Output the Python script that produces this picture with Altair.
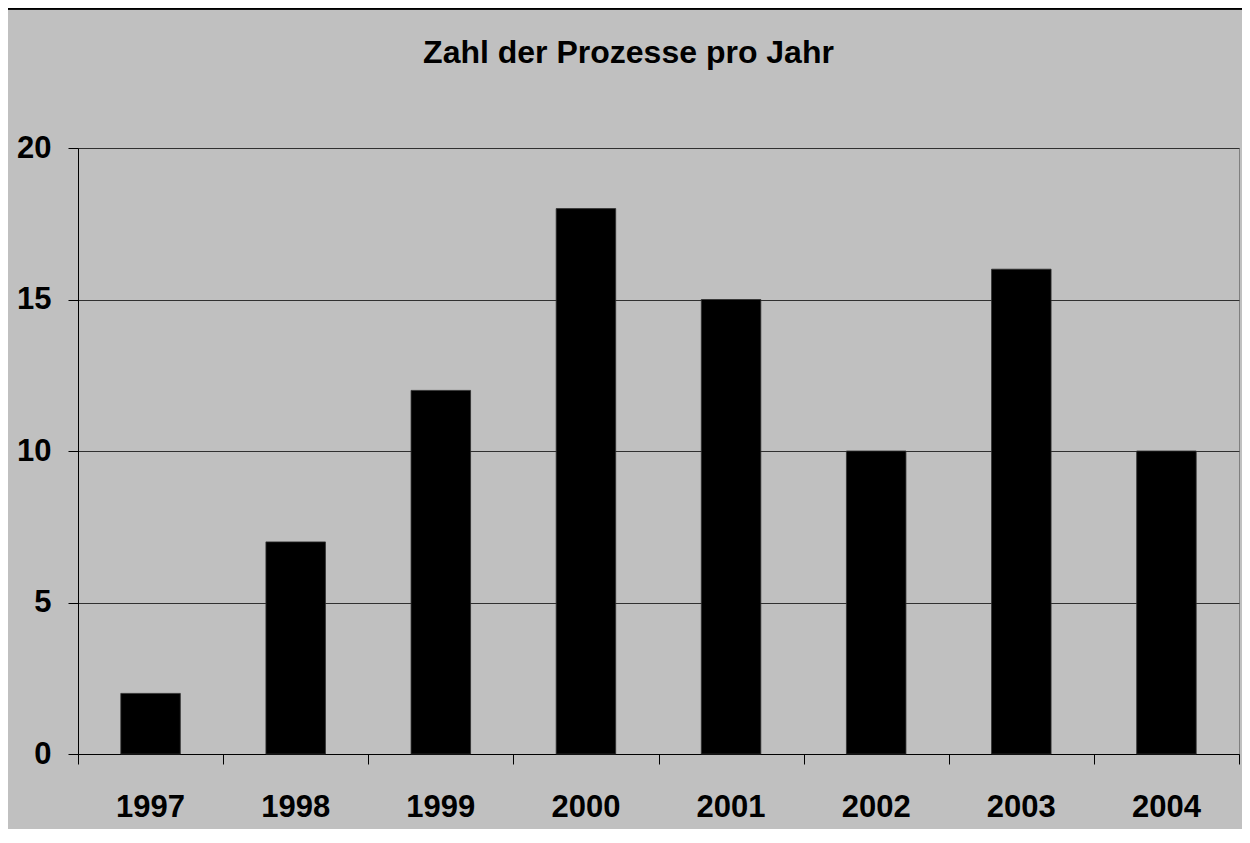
import altair as alt
import pandas as pd

years = ["1997", "1998", "1999", "2000", "2001", "2002", "2003", "2004"]
counts = [2, 7, 12, 18, 15, 10, 16, 10]
y_ticks = [0, 5, 10, 15, 20]
title_text = "Zahl der Prozesse pro Jahr"

df = pd.DataFrame({"Jahr": years, "Anzahl": counts})

FONT = "Liberation Sans"
W, H = 1161, 606
PAD = {"left": 70, "top": 140, "right": 3, "bottom": 75}

y_enc = alt.Y(
    "Anzahl:Q",
    title=None,
    scale=alt.Scale(domain=[0, 20], nice=False),
    axis=alt.Axis(
        values=y_ticks,
        labelFont=FONT,
        labelFontSize=31,
        labelFontWeight="bold",
        labelColor="black",
        labelPadding=17,
        tickSize=10,
        tickColor="black",
        domainColor="black",
        grid=True,
        gridColor="#303030",
        gridWidth=1,
    ),
)

bars = alt.Chart(df).mark_bar(color="black", stroke="#303030", strokeWidth=0.8).encode(
    x=alt.X(
        "Jahr:N",
        sort=years,
        title=None,
        scale=alt.Scale(paddingInner=0.59, paddingOuter=0.295),
        axis=alt.Axis(
            orient="bottom",
            labelAngle=0,
            labelFont=FONT,
            labelFontSize=31,
            labelFontWeight="bold",
            labelColor="black",
            labelPadding=38,
            ticks=False,
            domainColor="black",
            grid=False,
        ),
    ),
    y=y_enc,
)

# invisible layer whose axis draws the category-boundary ticks
tick_layer = alt.Chart(df).mark_bar(opacity=0).encode(
    x=alt.X(
        "Jahr:N",
        sort=years,
        title=None,
        scale=alt.Scale(paddingInner=0, paddingOuter=0),
        axis=alt.Axis(
            orient="bottom",
            labels=False,
            domain=False,
            grid=False,
            tickBand="extent",
            tickSize=10,
            tickColor="black",
        ),
    ),
    y=alt.Y("Anzahl:Q", scale=alt.Scale(domain=[0, 20], nice=False)),
)

top_line = alt.Chart(df).mark_rule(color="black", strokeWidth=1.5, clip=False).encode(
    x=alt.value(-PAD["left"]),
    x2=alt.value(W + PAD["right"]),
    y=alt.value(-PAD["top"] + 0.5),
)

chart = (
    alt.layer(bars, tick_layer, top_line)
    .resolve_scale(x="independent")
    .properties(
        width=W,
        height=H,
        background="#C0C0C0",
        padding=PAD,
        autosize=alt.AutoSizeParams(type="none"),
        title=alt.TitleParams(
            title_text,
            font=FONT,
            fontSize=32,
            fontWeight="bold",
            color="black",
            anchor="middle",
            baseline="alphabetic",
            offset=-87,
            dx=-30,
        ),
    )
    .configure_view(stroke="#808080", strokeWidth=1)
)

chart.save("out.html", embed_options={"renderer": "svg", "actions": False})
